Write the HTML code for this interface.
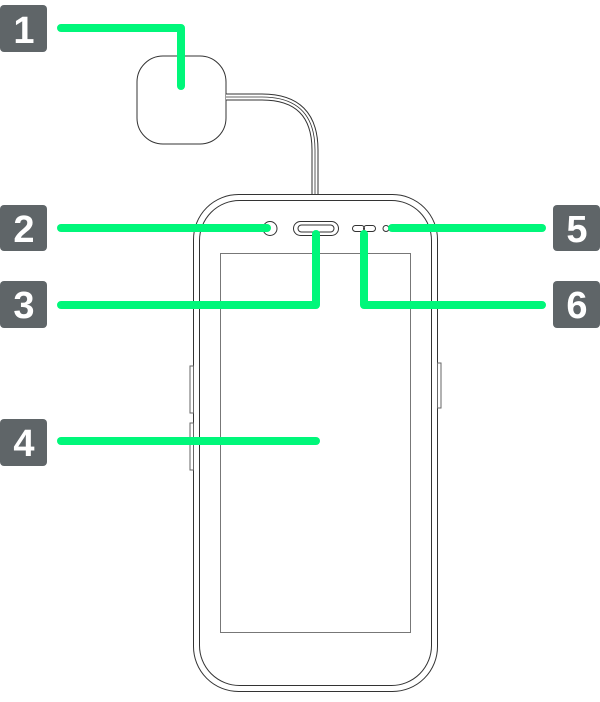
<!DOCTYPE html>
<html><head><style>
body{margin:0;background:#fff;width:600px;height:697px;overflow:hidden;font-family:"Liberation Sans",sans-serif}
</style></head><body>
<svg width="600" height="697" viewBox="0 0 600 697" xmlns="http://www.w3.org/2000/svg">
<g fill="none" stroke="#333" stroke-width="1">
<rect x="137" y="56" width="89" height="88" rx="26"/>
<path d="M226 97 H262 Q315 97 315 150 V195" stroke-width="7"/>
<path d="M226 97 H262 Q315 97 315 150 V195" stroke="#fff" stroke-width="5"/>
<path d="M226 97 H262 Q315 97 315 150 V195" stroke-width="0.8"/>
<rect x="193.5" y="194.5" width="244" height="497" rx="45"/>
<rect x="199.5" y="200.5" width="232" height="485" rx="40"/>
<rect x="220.5" y="253.5" width="190" height="379" stroke="#777"/>
<rect x="190" y="366" width="3.5" height="47" stroke="#666"/>
<rect x="190" y="423" width="3.5" height="47" stroke="#666"/>
<rect x="437.5" y="363" width="3.5" height="45" stroke="#666"/>
<circle cx="270" cy="228.5" r="7"/>
<rect x="293.5" y="221.5" width="45" height="14" rx="7"/>
<rect x="298" y="225" width="36" height="7" rx="3.5"/>
<rect x="352.5" y="225.5" width="12" height="6" rx="3"/>
<rect x="363.5" y="225.5" width="12" height="6" rx="3"/>
<circle cx="386" cy="228.5" r="3"/>
</g>
<g fill="none" stroke="#00f77a" stroke-width="8" stroke-linecap="round" stroke-linejoin="round">
<path d="M61 28 H181 V86"/>
<path d="M61 228 H267"/>
<path d="M61 305 H316 V234"/>
<path d="M61 441 H316"/>
<path d="M392 228 H542"/>
<path d="M364 234 V305 H542"/>
</g>
<g fill="#5f6568">
<rect x="0" y="5" width="47" height="47" rx="4"/>
<rect x="0" y="205" width="47" height="46" rx="4"/>
<rect x="0" y="281" width="47" height="47" rx="4"/>
<rect x="0" y="419" width="47" height="47" rx="4"/>
<rect x="553" y="205" width="47" height="46" rx="4"/>
<rect x="553" y="281" width="47" height="47" rx="4"/>
</g>
<g fill="#fff" font-size="38" font-weight="bold" text-anchor="middle">
<text x="24" y="43">1</text>
<text x="24" y="242">2</text>
<text x="24" y="318">3</text>
<text x="24" y="456">4</text>
<text x="577" y="242">5</text>
<text x="577" y="318">6</text>
</g>
</svg>
</body></html>
